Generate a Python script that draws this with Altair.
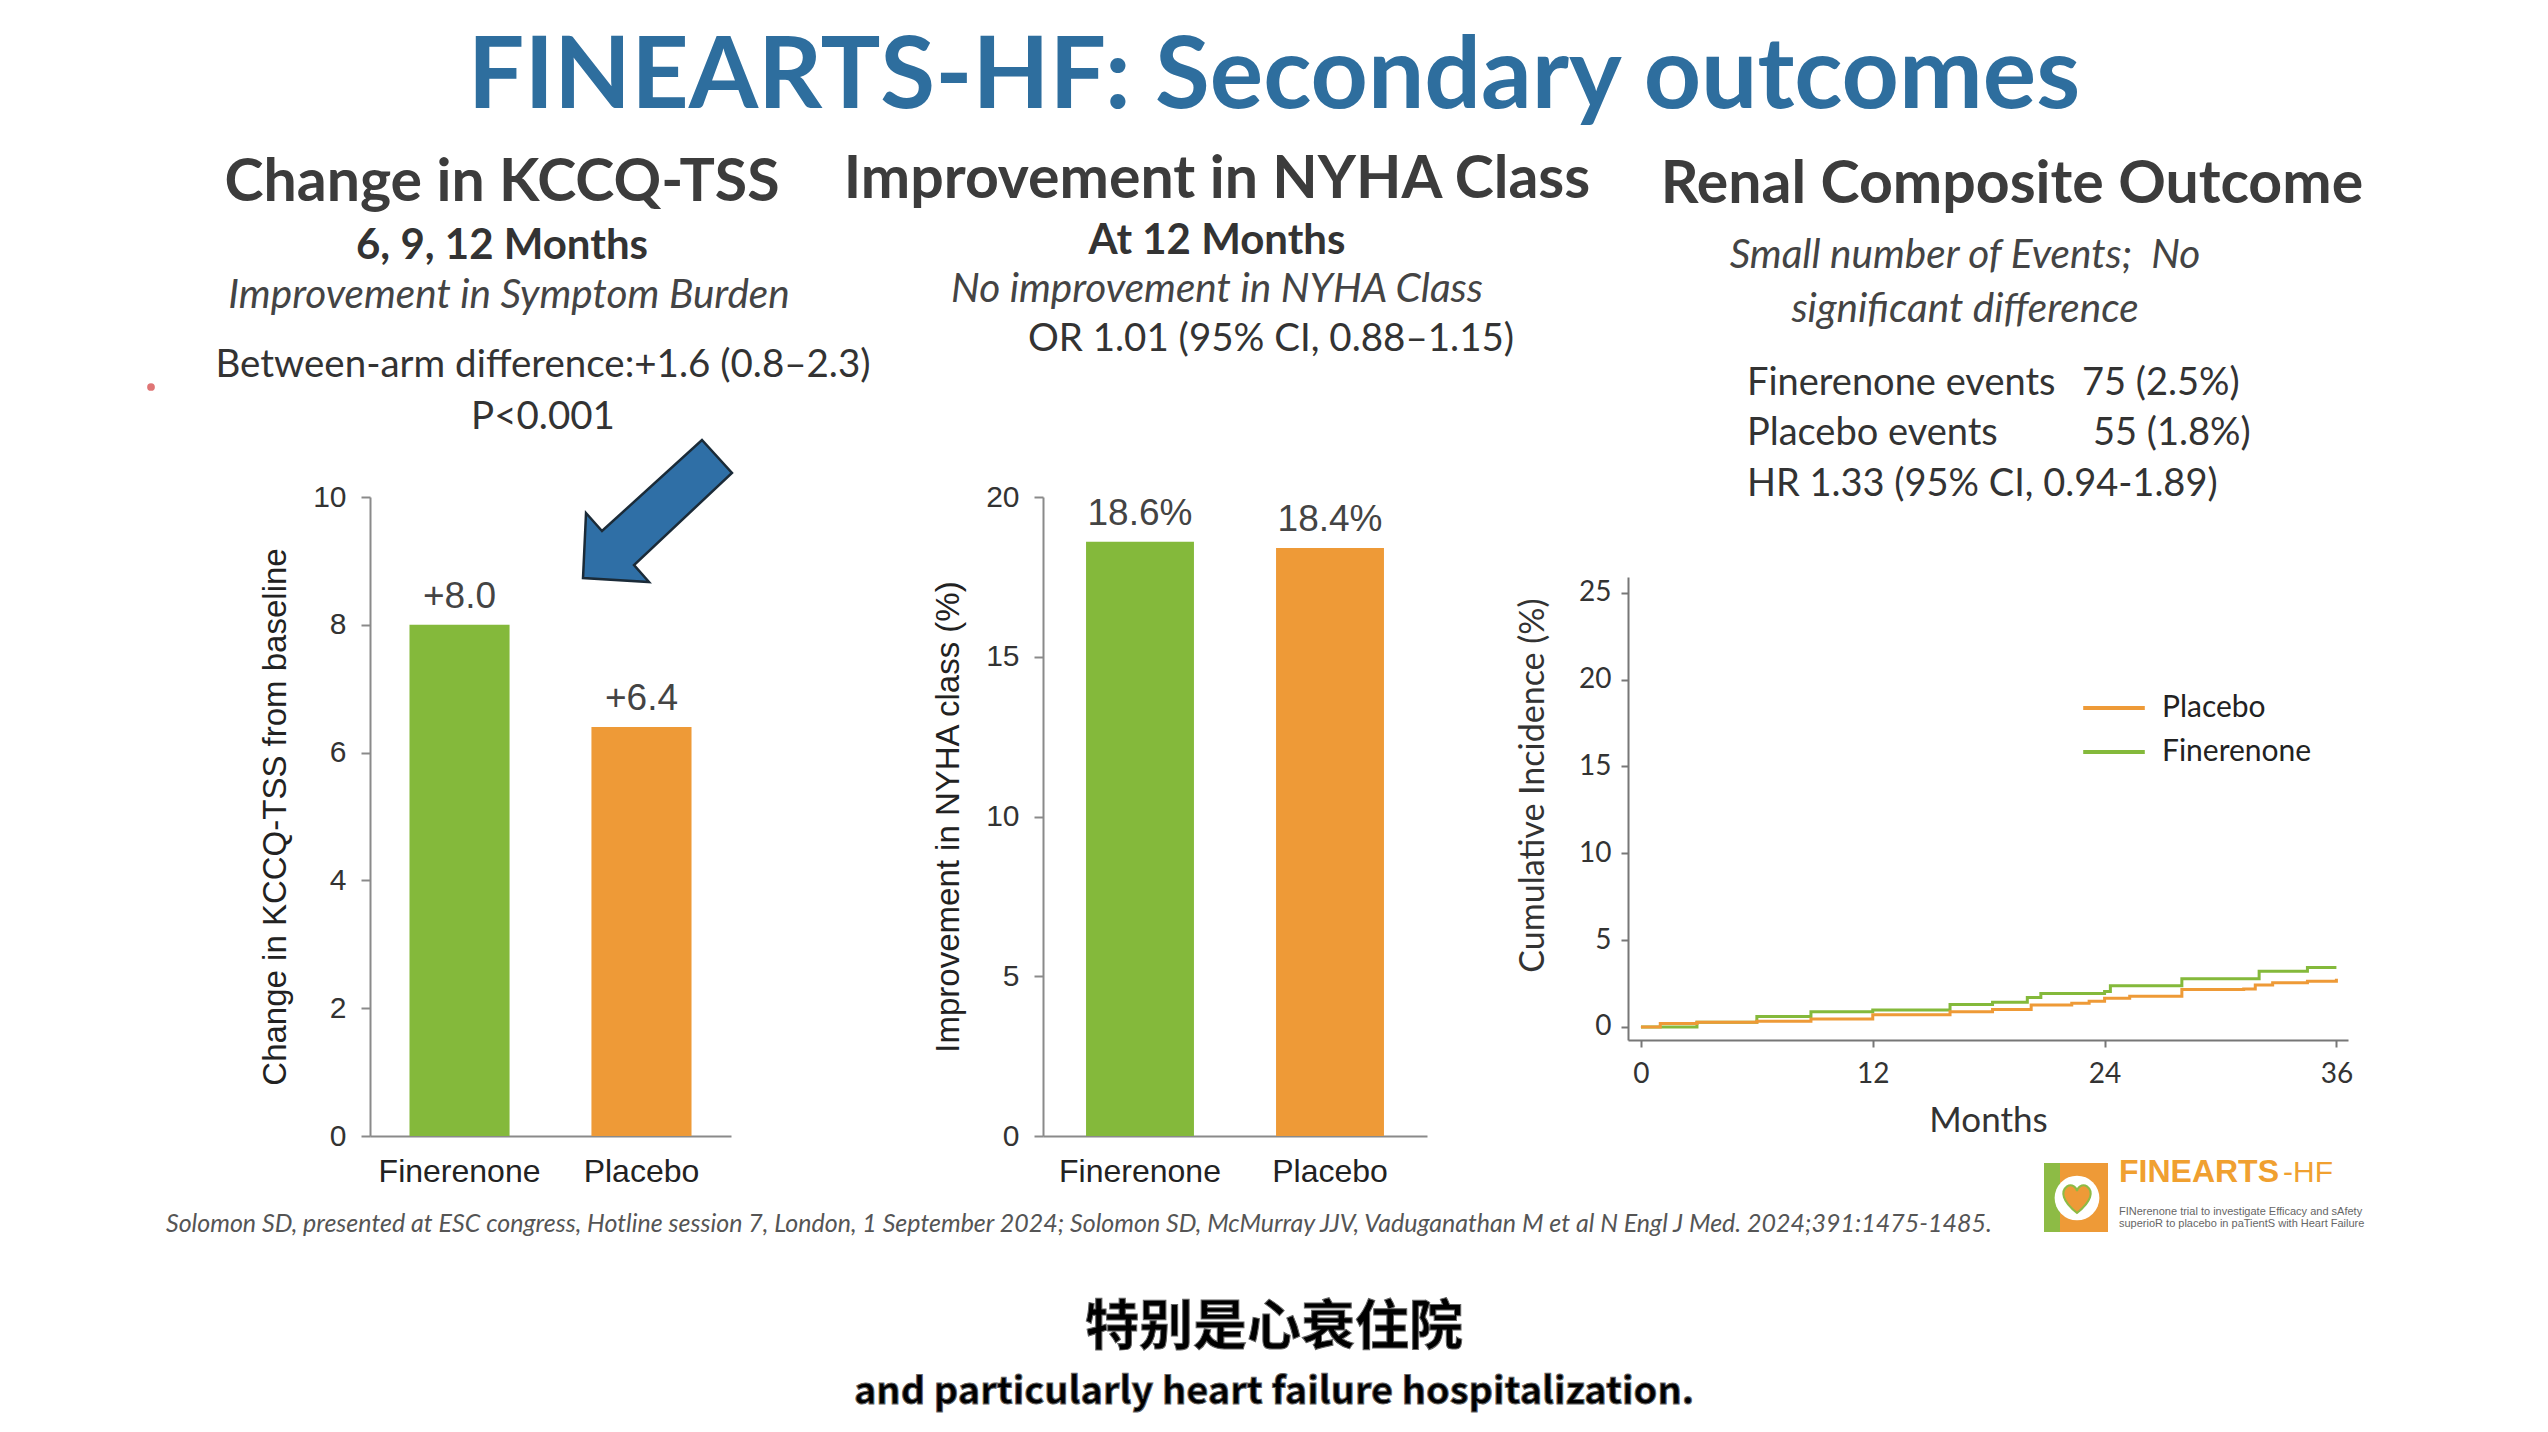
import altair as alt
import pandas as pd

# ---------------- data ----------------
arms = ["Finerenone", "Placebo"]
kccq_change = [8.0, 6.4]
kccq_labels = ["+8.0", "+6.4"]
kccq_ticks = [0, 2, 4, 6, 8, 10]

nyha_improve = [18.6, 18.4]
nyha_labels = ["18.6%", "18.4%"]
nyha_ticks = [0, 5, 10, 15, 20]

bar_colors = ["#84b93b", "#ee9a37"]

fin_months = [0, 2.9, 6.0, 8.8, 12.0, 16.0, 18.2, 20.0, 20.7, 24.0, 24.3, 28.0, 32.0, 34.5, 36.0]
fin_inc = [0, 0.27, 0.6, 0.88, 0.97, 1.3, 1.42, 1.7, 1.92, 2.04, 2.37, 2.77, 3.21, 3.43, 3.43]
pla_months = [0, 1.0, 2.9, 6.0, 8.8, 12.0, 16.0, 18.2, 20.2, 22.3, 23.2, 24.0, 25.3, 28.0, 31.2, 31.8, 32.7, 34.5, 36.0]
pla_inc = [0, 0.2, 0.27, 0.33, 0.46, 0.71, 0.88, 1.0, 1.26, 1.37, 1.48, 1.66, 1.77, 2.15, 2.19, 2.41, 2.54, 2.63, 2.77]
renal_arms = ["Placebo", "Finerenone"]
renal_colors = ["#ee9a37", "#84b93b"]
renal_x_ticks = [0, 12, 24, 36]
renal_y_ticks = [0, 5, 10, 15, 20, 25]

title_text = "FINEARTS-HF: Secondary outcomes"
headings = ["Change in KCCQ-TSS", "Improvement in NYHA Class", "Renal Composite Outcome"]
sub_bold = ["6, 9, 12 Months", "At 12 Months"]
sub_italic = ["Improvement in Symptom Burden", "No improvement in NYHA Class",
              "Small number of Events;\u00a0 No", "significant difference"]
body_center = ["Between-arm difference:+1.6 (0.8\u20132.3)", "P<0.001", "OR 1.01 (95% CI, 0.88\u20131.15)"]
body_left = ["Finerenone events", "75 (2.5%)", "Placebo events", "55 (1.8%)", "HR 1.33 (95% CI, 0.94-1.89)"]
footnote = ("Solomon SD, presented at ESC congress, Hotline session 7, London, 1 September 2024; "
            "Solomon SD, McMurray JJV, Vaduganathan M et al N Engl J Med. 2024;391:1475-1485.")
caption_zh = "特别是心衰住院"
caption_en = "and particularly heart failure hospitalization."
logo_main = "FINEARTS"
logo_suffix = "-HF"
logo_small = ["FINerenone trial to investigate Efficacy and sAfety",
              "superioR to placebo in paTientS with Heart Failure"]

# ---------------- layout ----------------
OFF = 8
W, H = 2532, 1416
CAL = "Lato, 'Open Sans', sans-serif"
SANS = "'Liberation Sans', Arial, sans-serif"
CJK = "'Noto Sans CJK SC', sans-serif"


def txt(texts, xs, ys, size, font=CAL, weight="normal", style="normal", color="#333",
        align="center", **kw):
    df = pd.DataFrame({"t": texts, "x": [v - OFF for v in xs], "y": [v - OFF for v in ys]})
    return alt.Chart(df).mark_text(
        align=align, baseline="alphabetic", font=font, fontSize=size,
        fontWeight=weight, fontStyle=style, color=color, **kw
    ).encode(
        x=alt.X("x:Q", scale=None, axis=None),
        y=alt.Y("y:Q", scale=None, axis=None),
        text="t:N",
    )


def bar_panel(values, labels, ymax, yticks, ytitle, x0, x1, p_in, p_out, y_top, y_bot, label_dy):
    df = pd.DataFrame({"arm": arms, "v": values, "lab": labels, "col": bar_colors})
    xs = alt.Scale(domain=arms, range=[x0 - OFF, x1 - OFF], paddingInner=p_in, paddingOuter=p_out)
    ys = alt.Scale(domain=[0, ymax], range=[y_bot - OFF, y_top - OFF], nice=False, zero=True)
    base = alt.Chart(df).encode(
        x=alt.X("arm:N", scale=xs, sort=arms,
                axis=alt.Axis(orient="bottom", offset=(y_bot - OFF) - H, title=None, ticks=False,
                              labelAngle=0, labelFont=SANS, labelFontSize=32, labelColor="#222",
                              labelPadding=20, domainColor="#8a8a8a", domainWidth=2)),
        y=alt.Y("v:Q", scale=ys,
                axis=alt.Axis(orient="left", offset=-(x0 - OFF), values=yticks, title=ytitle,
                              grid=False, tickSize=9, tickWidth=2, tickColor="#8a8a8a",
                              domainColor="#8a8a8a", domainWidth=2, labelFont=SANS,
                              labelFontSize=30, labelColor="#333", labelPadding=15,
                              titleFont=SANS, titleFontSize=33, titleFontWeight="normal",
                              titleColor="#222", titlePadding=20)),
    )
    bars = base.mark_bar().encode(color=alt.Color("col:N", scale=None))
    labs = base.mark_text(dy=label_dy, baseline="alphabetic", font=SANS, fontSize=37,
                          color="#444").encode(text="lab:N")
    return alt.layer(bars, labs)


panel1 = bar_panel(kccq_change, kccq_labels, 10, kccq_ticks, "Change in KCCQ-TSS from baseline",
                   370, 731, 0.45, 0.217, 497, 1136, -17)
panel2 = bar_panel(nyha_improve, nyha_labels, 20, nyha_ticks, "Improvement in NYHA class (%)",
                   1043, 1427, 0.432, 0.2265, 497, 1136, -17)

renal_df = pd.DataFrame({
    "month": fin_months + pla_months,
    "inc": fin_inc + pla_inc,
    "arm": ["Finerenone"] * len(fin_months) + ["Placebo"] * len(pla_months),
})
panel3 = alt.Chart(renal_df).mark_line(interpolate="step-after", strokeWidth=3).encode(
    x=alt.X("month:Q",
            scale=alt.Scale(domain=[-0.67, 36.6], range=[1628 - OFF, 2348 - OFF], nice=False, zero=False),
            axis=alt.Axis(orient="bottom", offset=(1040 - OFF) - H, values=renal_x_ticks, title="Months",
                          grid=False, tickSize=7, tickWidth=2, tickColor="#777", domainColor="#777",
                          domainWidth=2, labelFont=CAL, labelFontSize=28, labelColor="#333",
                          labelPadding=13, titleFont=CAL, titleFontSize=35, titleFontWeight="normal",
                          titleColor="#333", titlePadding=15)),
    y=alt.Y("inc:Q",
            scale=alt.Scale(domain=[-0.75, 25.9], range=[1040 - OFF, 577 - OFF], nice=False, zero=False),
            axis=alt.Axis(orient="left", offset=-(1628 - OFF), values=renal_y_ticks,
                          title="Cumulative Incidence (%)", grid=False, tickSize=7, tickWidth=2,
                          tickColor="#777", domainColor="#777", domainWidth=2, labelFont=CAL,
                          labelFontSize=28, labelColor="#333", labelPadding=10, titleFont=CAL,
                          titleFontSize=34, titleFontWeight="normal", titleColor="#333",
                          titleX=-78, titleY=785 - OFF)),
    color=alt.Color("arm:N", scale=alt.Scale(domain=renal_arms, range=renal_colors),
                    legend=alt.Legend(orient="none", legendX=2090 - OFF, legendY=684 - OFF, title=None,
                                      symbolType="M-1.4,0H1.4", symbolSize=1936, symbolStrokeWidth=4,
                                      labelFont=CAL, labelFontSize=30, labelColor="#222",
                                      labelOffset=24, rowPadding=5)),
)

# decorations
one = pd.DataFrame({"a": [0]})
arrow = alt.Chart(one).mark_point(
    shape="M-0.993,0.893 L-0.953,0.027 L-0.74,0.267 L0.593,-0.947 L0.993,-0.507 L-0.313,0.72 L-0.113,0.947 Z",
    filled=True, fill="#2f6fa6", stroke="#1b2b38", strokeWidth=2.5, opacity=1, size=22500,
).encode(x=alt.value(657.5 - OFF), y=alt.value(511 - OFF))

red_dot = alt.Chart(one).mark_point(filled=True, fill="#d23a3a", opacity=0.7, size=60).encode(
    x=alt.value(151 - OFF), y=alt.value(387 - OFF))

logo_green = alt.Chart(one).mark_rect(color="#8dbb45").encode(
    x=alt.value(2044 - OFF), x2=alt.value(2108 - OFF), y=alt.value(1163 - OFF), y2=alt.value(1232 - OFF))
logo_orange = alt.Chart(one).mark_rect(color="#ee9a37").encode(
    x=alt.value(2060 - OFF), x2=alt.value(2108 - OFF), y=alt.value(1163 - OFF), y2=alt.value(1232 - OFF))
logo_circle = alt.Chart(one).mark_point(filled=True, fill="#ffffff", opacity=1, size=2000).encode(
    x=alt.value(2077 - OFF), y=alt.value(1198 - OFF))
logo_heart = alt.Chart(one).mark_point(
    shape="M0,0.9 C-0.9,0.2 -1,-0.4 -0.6,-0.7 C-0.3,-0.9 0,-0.6 0,-0.4 C0,-0.6 0.3,-0.9 0.6,-0.7 C1,-0.4 0.9,0.2 0,0.9 Z",
    filled=True, fill="#ee9a37", stroke="#8dbb45", strokeWidth=2, opacity=1, size=1100,
).encode(x=alt.value(2077 - OFF), y=alt.value(1198 - OFF))

# texts
layers = [
    txt([title_text], [1274], [108], 100, weight="bold", color="#2e6e9e"),
    txt(headings, [502, 1217, 2012], [201, 198, 203], 59, weight="bold", color="#3c3c3c"),
    txt(sub_bold, [502, 1217], [259, 254], 42, weight="bold", color="#333"),
    txt(sub_italic, [509, 1217, 1965, 1965], [308, 302, 268, 322], 40.5, style="italic", color="#444"),
    txt(body_center, [543, 543, 1271], [377, 429, 351], 38.5, color="#333"),
    txt(body_left, [1747, 2082, 1747, 2093, 1747], [395, 395, 445, 445, 496], 38, color="#333",
        align="left"),
    txt([footnote], [166], [1232], 25, style="italic", color="#555", align="left"),
    txt([caption_zh], [1274], [1345], 54, font=CJK, weight="bold", color="#000",
        stroke="#666", strokeWidth=1),
    txt([caption_en], [1274], [1404], 38, font=CJK, weight="bold", color="#000",
        stroke="#666", strokeWidth=1),
    txt([logo_main], [2119], [1182], 32, font=SANS, weight="bold", color="#f0a030", align="left"),
    txt([logo_suffix], [2283], [1182], 30, font=SANS, color="#f0a030", align="left"),
    txt(logo_small, [2119, 2119], [1215, 1227], 11, font=SANS, color="#666", align="left"),
]

chart = alt.layer(
    panel1, panel2, panel3, arrow, red_dot, logo_green, logo_orange, logo_circle, logo_heart, *layers
).resolve_scale(
    x="independent", y="independent", color="independent"
).resolve_axis(
    x="independent", y="independent"
).resolve_legend(
    color="independent"
).properties(
    width=W, height=H, padding=0, autosize=alt.AutoSizeParams(type="none"), background="#ffffff"
).configure_view(stroke=None)

chart.save("out.html", embed_options={"renderer": "svg", "actions": False})
